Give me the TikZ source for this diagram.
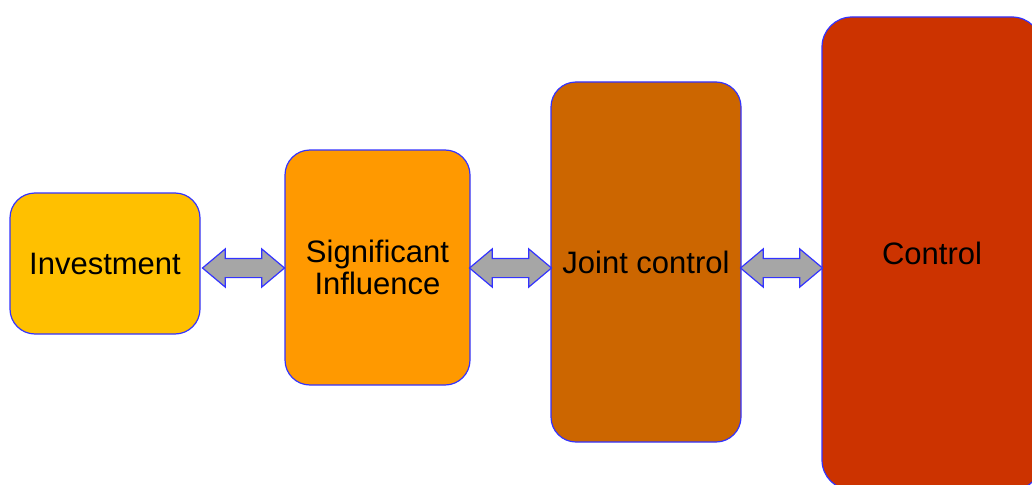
\documentclass[tikz,border=0pt]{standalone}
\usepackage{fontspec}
\setmainfont{Liberation Sans}
\usepackage{tikz}
\usetikzlibrary{shapes.arrows, calc, positioning}
\definecolor{investfill}{RGB}{255,192,0}
\definecolor{signiffill}{RGB}{255,153,0}
\definecolor{jointfill}{RGB}{204,102,0}
\definecolor{ctrlfill}{RGB}{204,51,0}
\definecolor{edgeblue}{RGB}{51,51,255}
\definecolor{arrowgray}{RGB}{166,166,166}

\begin{document}
\begin{tikzpicture}[x=1pt, y=-1pt]
% TikZ styles
\tikzset{
  stage/.style={rectangle, rounded corners=25pt, draw=edgeblue, line width=1.2pt, align=center, inner sep=0pt, font=\fontsize{31}{32}\selectfont},
  dblarrow/.style={double arrow, draw=edgeblue, fill=arrowgray, line width=1.2pt, inner xsep=0pt, inner ysep=9pt, minimum width=37pt, minimum height=82pt, double arrow head extend=9.5pt, double arrow tip angle=80}
};
\useasboundingbox (0,0) rectangle (1032,484);

%==========================
% Stufen
%==========================
\node[stage, fill=investfill, minimum width=190pt, minimum height=141pt] (invest) at (105,263.5) {Investment};
\node[stage, fill=signiffill, minimum width=185pt, minimum height=235pt] (signif) at (377.5,267.5) {Significant\\Influence};
\node[stage, fill=jointfill, minimum width=190pt, minimum height=360pt] (joint) at (646,262) {Joint control};
\node[stage, fill=ctrlfill, minimum width=220pt, minimum height=473pt, rounded corners=30pt] (ctrl) at (932,253.5) {Control};

% === Pfeile ===
\node[dblarrow] (arrinvest) at (243.5,268) {};
\node[dblarrow] (arrsignif) at (510.5,268) {};
\node[dblarrow] (arrjoint) at (781.5,268) {};
\end{tikzpicture}
\end{document}
